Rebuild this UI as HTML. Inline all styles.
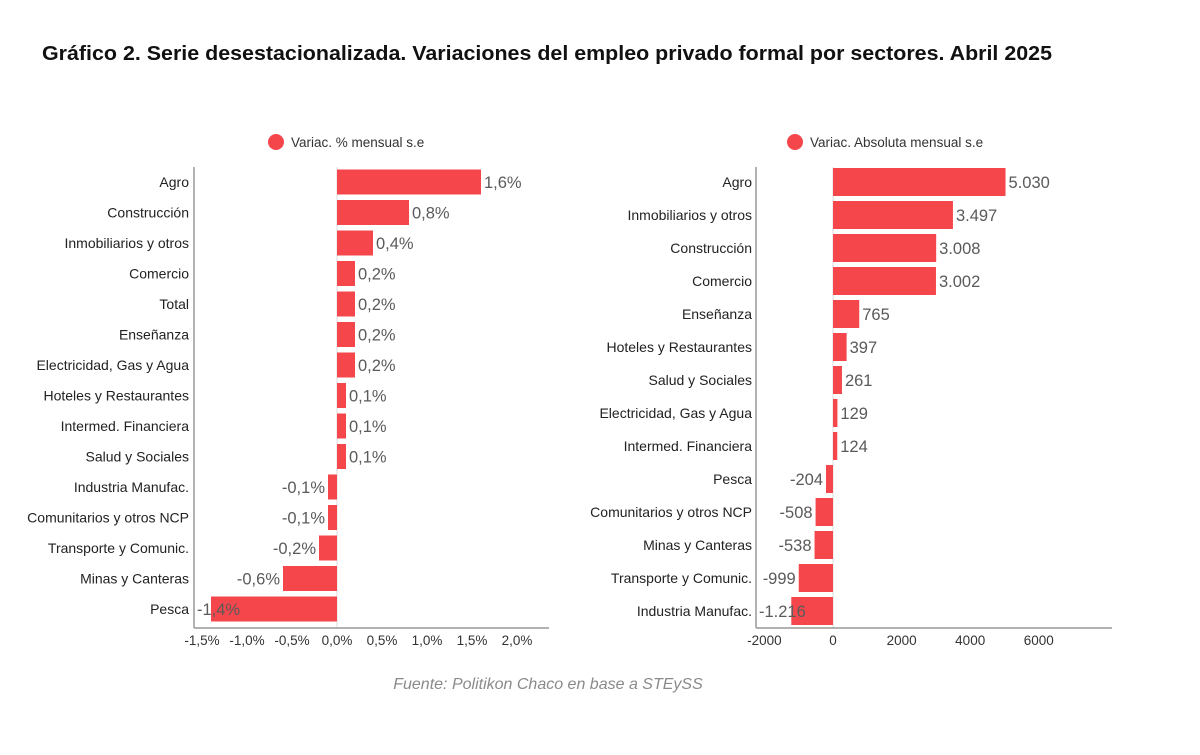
<!DOCTYPE html>
<html><head><meta charset="utf-8">
<style>
body{margin:0;background:#fff;width:1200px;height:750px;overflow:hidden;font-family:"Liberation Sans",sans-serif}
svg text{font-family:"Liberation Sans",sans-serif}
</style></head><body>
<svg id="c" width="1200" height="750">
<text x="42" y="60" font-size="20" font-weight="bold" fill="#111" textLength="1010" lengthAdjust="spacingAndGlyphs">Gráfico 2. Serie desestacionalizada. Variaciones del empleo privado formal por sectores. Abril 2025</text>
<circle cx="276" cy="142" r="8" fill="#f5474b"/>
<text x="291" y="147" font-size="13.5" fill="#333">Variac. % mensual s.e</text>
<circle cx="795" cy="142" r="8" fill="#f5474b"/>
<text x="810" y="147" font-size="13.5" fill="#333">Variac. Absoluta mensual s.e</text>
<text x="548" y="689" font-size="16" font-style="italic" fill="#8a8a8a" text-anchor="middle">Fuente: Politikon Chaco en base a STEySS</text>
<g id="left"></g>
<g id="right"></g>
</svg>
<script>
const leftCats=["Agro","Construcción","Inmobiliarios y otros","Comercio","Total","Enseñanza","Electricidad, Gas y Agua","Hoteles y Restaurantes","Intermed. Financiera","Salud y Sociales","Industria Manufac.","Comunitarios y otros NCP","Transporte y Comunic.","Minas y Canteras","Pesca"];
const leftVals=[1.6,0.8,0.4,0.2,0.2,0.2,0.2,0.1,0.1,0.1,-0.1,-0.1,-0.2,-0.6,-1.4];
const leftLabels=["1,6%","0,8%","0,4%","0,2%","0,2%","0,2%","0,2%","0,1%","0,1%","0,1%","-0,1%","-0,1%","-0,2%","-0,6%","-1,4%"];
const leftTicks=[-1.5,-1.0,-0.5,0,0.5,1.0,1.5,2.0];
const leftTickLabels=["-1,5%","-1,0%","-0,5%","0,0%","0,5%","1,0%","1,5%","2,0%"];
const rightCats=["Agro","Inmobiliarios y otros","Construcción","Comercio","Enseñanza","Hoteles y Restaurantes","Salud y Sociales","Electricidad, Gas y Agua","Intermed. Financiera","Pesca","Comunitarios y otros NCP","Minas y Canteras","Transporte y Comunic.","Industria Manufac."];
const rightVals=[5030,3497,3008,3002,765,397,261,129,124,-204,-508,-538,-999,-1216];
const rightLabels=["5.030","3.497","3.008","3.002","765","397","261","129","124","-204","-508","-538","-999","-1.216"];
const rightTicks=[-2000,0,2000,4000,6000];
const rightTickLabels=["-2000","0","2000","4000","6000"];
const NS="http://www.w3.org/2000/svg";
function mk(p,t,a){const e=document.createElementNS(NS,t);for(const k in a)e.setAttribute(k,a[k]);p.appendChild(e);return e;}
function draw(g,cats,vals,labels,ticks,tickLabels,o){
  const x=v=>o.zero+v*o.scale;
  const step=(o.lastY-o.firstY)/(cats.length-1);
  const y=i=>o.firstY+i*step;
  let l=mk(g,'line',{x1:x(0),x2:x(0),y1:o.top,y2:o.axisY,stroke:'#ddd','stroke-width':1});
  
  
  cats.forEach((c,i)=>{
    const v=vals[i],x0=Math.min(x(0),x(v)),w=Math.abs(x(v)-x(0));
    const r=mk(g,'rect',{x:x0,y:y(i)-o.bh/2,width:w,height:o.bh,fill:'#f5474b'});
    
    
    const t=mk(g,'text',{x:o.catX,y:y(i)+5,'font-size':14,fill:'#222','text-anchor':'end'});
    t.textContent=c;
    
    
    const vl=mk(g,'text',{x:v>=0?x(v)+3:x(v)-3,y:y(i)+6,'font-size':16.5,fill:'#5a5a5a','text-anchor':v>=0?'start':'end'});
    if(v<0&&x(v)-3-labels[i].length*9<o.axisX){vl.setAttribute('x',o.axisX+3);vl.setAttribute('text-anchor','start');}
    vl.textContent=labels[i];
    
    
  });
  l=mk(g,'line',{x1:o.axisX,x2:o.axisX,y1:o.top,y2:o.axisY,stroke:'#999','stroke-width':1.5});
  
  
  l=mk(g,'line',{x1:o.axisX,x2:o.axisEnd,y1:o.axisY,y2:o.axisY,stroke:'#999','stroke-width':1.5});
  
  
  ticks.forEach((t,i)=>{
    const tx=mk(g,'text',{x:x(t),y:o.axisY+17,'font-size':13.5,fill:'#333','text-anchor':'middle'});
    tx.textContent=tickLabels[i];
    
    
  });
}
draw(document.getElementById('left'),leftCats,leftVals,leftLabels,leftTicks,leftTickLabels,
 {zero:337,scale:90,firstY:182,lastY:609,bh:25,top:167,axisY:628,axisX:194,axisEnd:549,catX:189});
draw(document.getElementById('right'),rightCats,rightVals,rightLabels,rightTicks,rightTickLabels,
 {zero:833,scale:0.0343,firstY:182,lastY:611,bh:28,top:167,axisY:628,axisX:756,axisEnd:1112,catX:752});
</script>
</body></html>
